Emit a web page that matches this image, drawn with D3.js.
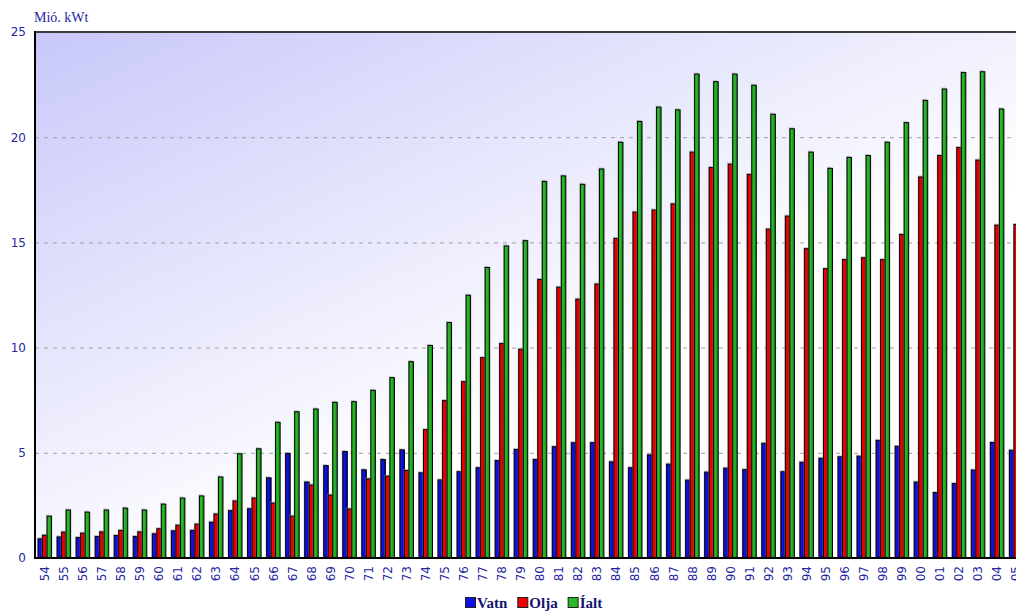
<!DOCTYPE html>
<html>
<head>
<meta charset="utf-8">
<script src="https://cdn.jsdelivr.net/npm/d3@7"></script>
<style>
    body { margin: 0; background: #fff; }
    svg { display: block; }
</style>
</head>
<body>
<div id="chart"></div>
<script>
const years = ['54', '55', '56', '57', '58', '59', '60', '61', '62', '63', '64', '65', '66', '67', '68', '69',
    '70', '71', '72', '73', '74', '75', '76', '77', '78', '79', '80', '81', '82', '83', '84', '85', '86', '87',
    '88', '89', '90', '91', '92', '93', '94', '95', '96', '97', '98', '99', '00', '01', '02', '03', '04', '05'];

const vatn = [0.91, 1.0, 0.97, 1.02, 1.07, 1.02, 1.15, 1.29, 1.31, 1.70, 2.25, 2.34, 3.81, 4.97, 3.61, 4.39,
    5.06, 4.19, 4.68, 5.14, 4.05, 3.71, 4.10, 4.29, 4.63, 5.16, 4.68, 5.29, 5.48, 5.48, 4.57, 4.29, 4.90, 4.46,
    3.70, 4.08, 4.27, 4.20, 5.45, 4.10, 4.55, 4.74, 4.81, 4.84, 5.59, 5.31, 3.61, 3.11, 3.54, 4.18, 5.49, 5.12];

const olja = [1.08, 1.23, 1.18, 1.24, 1.31, 1.24, 1.39, 1.56, 1.61, 2.09, 2.71, 2.85, 2.61, 1.99, 3.47, 2.99,
    2.33, 3.76, 3.89, 4.16, 6.10, 7.48, 8.38, 9.52, 10.19, 9.92, 13.24, 12.87, 12.30, 13.02, 15.19, 16.44, 16.54, 16.83,
    19.29, 18.56, 18.72, 18.23, 15.63, 16.25, 14.70, 13.75, 14.18, 14.27, 14.18, 15.38, 18.11, 19.13, 19.51, 18.91, 15.82, 15.85];

const ialt = [1.99, 2.28, 2.18, 2.28, 2.37, 2.28, 2.56, 2.85, 2.95, 3.85, 4.95, 5.19, 6.45, 6.95, 7.08, 7.40,
    7.43, 7.97, 8.57, 9.33, 10.1, 11.19, 12.49, 13.81, 14.83, 15.08, 17.90, 18.16, 17.76, 18.49, 19.76, 20.75, 21.43, 21.30,
    23.0, 22.64, 23.0, 22.47, 21.09, 20.4, 19.29, 18.52, 19.04, 19.13, 19.76, 20.69, 21.75, 22.29, 23.07, 23.11, 21.34, 21.0];

const seriesNames = ['Vatn', 'Olja', 'Íalt'];
const yTicks = [0, 5, 10, 15, 20, 25];
const yUnit = 'Mió. kWt';

const width = 1016;
const height = 611;
const plotLeft = 35, plotTop = 32, plotBottom = 558;
const plotRight = 1026; // plot runs past the window edge, last group is cut

const colors = {
    'Vatn': ['#1010e0', '#0000a8'],
    'Olja': ['#f00000', '#b00000'],
    'Íalt': ['#28b828', '#118011']
};
const textColor = '#2626a0';
const tickFont = '"DejaVu Sans", Verdana, sans-serif';

const rows = years.map((yr, i) => ({ year: yr, 'Vatn': vatn[i], 'Olja': olja[i], 'Íalt': ialt[i] }));

const svg = d3.select('#chart')
    .append('svg')
    .attr('width', width)
    .attr('height', height)
    .style('font-family', '"Liberation Serif", "DejaVu Serif", serif');

const defs = svg.append('defs');

// background of the plot: violet in the top-left, fading to white
const bg = defs.append('linearGradient')
    .attr('id', 'bg')
    .attr('gradientUnits', 'userSpaceOnUse')
    .attr('x1', plotLeft).attr('y1', plotTop)
    .attr('x2', plotLeft + 230).attr('y2', plotTop + 500);
bg.append('stop').attr('offset', 0).attr('stop-color', '#c8c8fa');
bg.append('stop').attr('offset', 1).attr('stop-color', '#ffffff');

seriesNames.forEach((s, i) => {
    const g = defs.append('linearGradient')
        .attr('id', 'bar' + i)
        .attr('x1', 0).attr('y1', 0).attr('x2', 1).attr('y2', 0);
    g.append('stop').attr('offset', 0).attr('stop-color', colors[s][0]);
    g.append('stop').attr('offset', 0.45).attr('stop-color', colors[s][0]);
    g.append('stop').attr('offset', 1).attr('stop-color', colors[s][1]);
});

const x0 = d3.scaleBand()
    .domain(years)
    .range([plotLeft, plotRight])
    .paddingInner(0.29)
    .paddingOuter(0.16);

const x1 = d3.scaleBand()
    .domain(seriesNames)
    .range([0, x0.bandwidth()]);

const y = d3.scaleLinear()
    .domain([0, 25])
    .range([plotBottom, plotTop]);

svg.append('rect')
    .attr('x', plotLeft)
    .attr('y', plotTop)
    .attr('width', plotRight - plotLeft)
    .attr('height', plotBottom - plotTop)
    .attr('fill', 'url(#bg)');

// dashed grid lines
svg.append('g')
    .selectAll('line')
    .data(yTicks.filter(t => t > 0 && t < 25))
    .enter()
    .append('line')
    .attr('x1', plotLeft)
    .attr('x2', plotRight)
    .attr('y1', d => y(d) + 0.5)
    .attr('y2', d => y(d) + 0.5)
    .attr('stroke', '#a0a0a0')
    .attr('stroke-dasharray', '4,5');

// bars
const groups = svg.append('g')
    .selectAll('g')
    .data(rows)
    .enter()
    .append('g')
    .attr('transform', d => `translate(${x0(d.year)},0)`);

const cells = groups.selectAll('g')
    .data(d => seriesNames.map((s, i) => ({ key: s, idx: i, value: d[s] })))
    .enter()
    .append('g');

// soft shadow along the top-left edge
cells.append('rect')
    .attr('x', d => x1(d.key) - 1)
    .attr('y', d => y(d.value) - 1.5)
    .attr('width', x1.bandwidth())
    .attr('height', d => y(0) - y(d.value))
    .attr('fill', '#9a9a9a')
    .attr('opacity', 0.6);

cells.append('rect')
    .attr('x', d => x1(d.key))
    .attr('y', d => y(d.value))
    .attr('width', x1.bandwidth())
    .attr('height', d => y(0) - y(d.value))
    .attr('fill', d => `url(#bar${d.idx})`)
    .attr('stroke', '#000')
    .attr('stroke-width', 1);

// frame
svg.append('line')
    .attr('x1', plotLeft).attr('x2', plotRight)
    .attr('y1', plotTop).attr('y2', plotTop)
    .attr('stroke', '#3c3c3c')
    .attr('stroke-width', 2);

svg.append('line')
    .attr('x1', plotLeft).attr('x2', plotRight)
    .attr('y1', plotBottom).attr('y2', plotBottom)
    .attr('stroke', '#000')
    .attr('stroke-width', 2);

svg.append('line')
    .attr('x1', plotLeft).attr('x2', plotLeft)
    .attr('y1', plotTop - 1).attr('y2', plotBottom + 1)
    .attr('stroke', '#000')
    .attr('stroke-width', 2);

// y axis
const yAxis = svg.append('g')
    .attr('transform', `translate(${plotLeft},0)`)
    .call(d3.axisLeft(y).tickValues(yTicks).tickSize(0).tickPadding(9));
yAxis.select('.domain').remove();
yAxis.selectAll('text')
    .attr('fill', textColor)
    .style('font-size', '12px')
    .style('font-family', tickFont);

svg.append('text')
    .attr('x', 34)
    .attr('y', 22)
    .attr('fill', textColor)
    .style('font-size', '14px')
    .text(yUnit);

// x axis labels, rotated
const xAxis = svg.append('g')
    .attr('transform', `translate(0,${plotBottom})`)
    .call(d3.axisBottom(x0).tickSize(0));
xAxis.select('.domain').remove();
xAxis.selectAll('text')
    .attr('fill', textColor)
    .style('font-size', '12px')
    .style('font-family', tickFont)
    .attr('text-anchor', 'end')
    .attr('transform', 'rotate(-90)')
    .attr('x', -8)
    .attr('y', 0)
    .attr('dy', '0.35em');

// legend
const legend = svg.append('g');
let lx = 0;
seriesNames.forEach((s, i) => {
    const item = legend.append('g').attr('transform', `translate(${lx},0)`);
    item.append('rect')
        .attr('x', 0.5).attr('y', -10.5)
        .attr('width', 10).attr('height', 10)
        .attr('fill', colors[s][0])
        .attr('stroke', '#202020');
    const t = item.append('text')
        .attr('x', 12)
        .attr('y', 0)
        .attr('fill', '#14146e')
        .style('font-size', '15px')
        .style('font-weight', 'bold')
        .text(s);
    lx += 12 + t.node().getComputedTextLength() + 10;
});
lx -= 10;
legend.attr('transform', `translate(${Math.round(534 - lx / 2)},608)`);
</script>
</body>
</html>
